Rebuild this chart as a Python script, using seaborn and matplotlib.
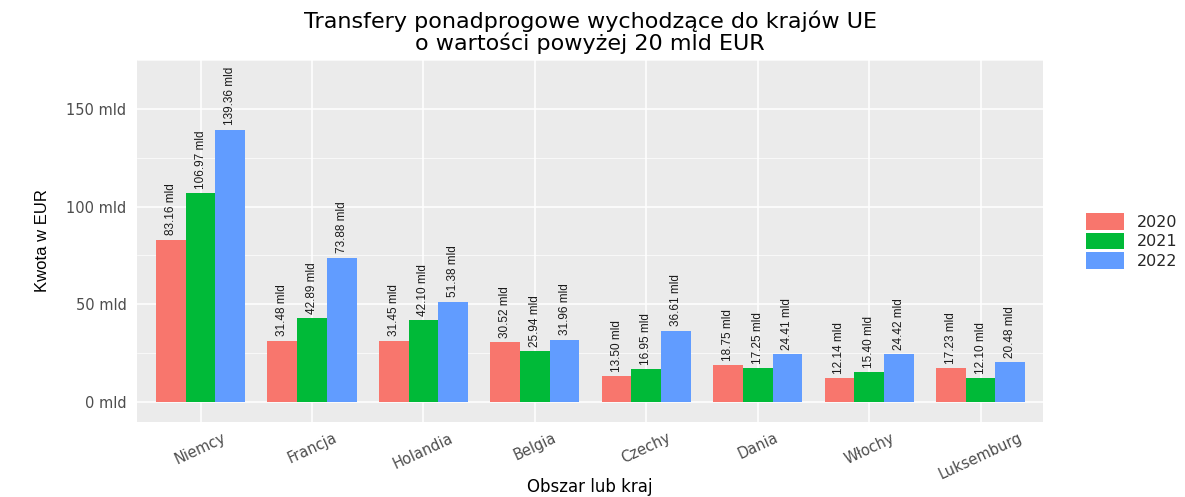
import matplotlib
matplotlib.use("Agg")
import matplotlib.pyplot as plt
import seaborn as sns
import pandas as pd
from matplotlib.ticker import MultipleLocator, FuncFormatter

kraje = ["Niemcy", "Francja", "Holandia", "Belgia", "Czechy", "Dania", "Włochy", "Luksemburg"]
lata = ["2020", "2021", "2022"]
v2020 = [83.16, 31.48, 31.45, 30.52, 13.50, 18.75, 12.14, 17.23]
v2021 = [106.97, 42.89, 42.10, 25.94, 16.95, 17.25, 15.40, 12.10]
v2022 = [139.36, 73.88, 51.38, 31.96, 36.61, 24.41, 24.42, 20.48]
kolory = ["#F8766D", "#00BA38", "#619CFF"]

df = pd.DataFrame({
    "kraj": kraje * 3,
    "rok": [r for r in lata for _ in kraje],
    "kwota": v2020 + v2021 + v2022,
})

sns.set_style("darkgrid", {"axes.facecolor": "#EBEBEB", "grid.color": "white"})
plt.rcParams['font.family'] = ['DejaVu Sans']

fig = plt.figure(figsize=(11.85, 4.97), dpi=100)
ax = fig.add_axes([137/1185, 1-422/497, (1043-137)/1185, (422-60)/497])

sns.barplot(data=df, x="kraj", y="kwota", hue="rok", order=kraje, hue_order=lata,
            palette=kolory, saturation=1, width=0.8, edgecolor="none", ax=ax)

for cont, vals in zip(ax.containers, [v2020, v2021, v2022]):
    ax.bar_label(cont, labels=["%.2f mld" % v for v in vals], rotation=90, padding=3,
                 fontsize=8.5, color="#1a1a1a", family=['Liberation Sans Narrow', 'Liberation Sans'])

ax.set_xlim(-0.57, 7.56)
ax.set_ylim(-10.2, 175)
ax.yaxis.set_major_locator(MultipleLocator(50))
ax.yaxis.set_minor_locator(MultipleLocator(25))
ax.yaxis.set_major_formatter(FuncFormatter(lambda v, p: "%d mld" % v))
ax.grid(True, which="major", color="white", linewidth=1.1)
ax.grid(True, which="minor", axis="y", color="white", linewidth=0.5)
ax.set_axisbelow(True)
for s in ax.spines.values():
    s.set_visible(False)

ax.tick_params(axis="both", which="major", length=4, width=1, color="#333333",
               labelcolor="#4d4d4d", labelsize=10.5)
ax.tick_params(axis="x", which="major", pad=2)
ax.tick_params(axis="y", which="minor", length=0)
for lab in ax.get_xticklabels():
    lab.set_rotation(25)
    lab.set_ha("center")

ax.set_xlabel("Obszar lub kraj", fontsize=12, color="black")
ax.xaxis.set_label_coords(0.5, -0.155)
ax.set_ylabel("Kwota w EUR", fontsize=12, color="black", labelpad=12,
              family=['Liberation Sans Narrow', 'Liberation Sans'])
ax.set_title("Transfery ponadprogowe wychodzące do krajów UE\no wartości powyżej 20 mld EUR",
             fontsize=16, color="black", pad=7, linespacing=1.05)

ax.legend(title=None, loc="center left", bbox_to_anchor=(1.04, 0.5), frameon=False,
          borderaxespad=0, fontsize=11.5, handlelength=2.4, handleheight=1.25,
          labelspacing=0.15, handletextpad=0.8)

fig.savefig("out.png", dpi=100)
